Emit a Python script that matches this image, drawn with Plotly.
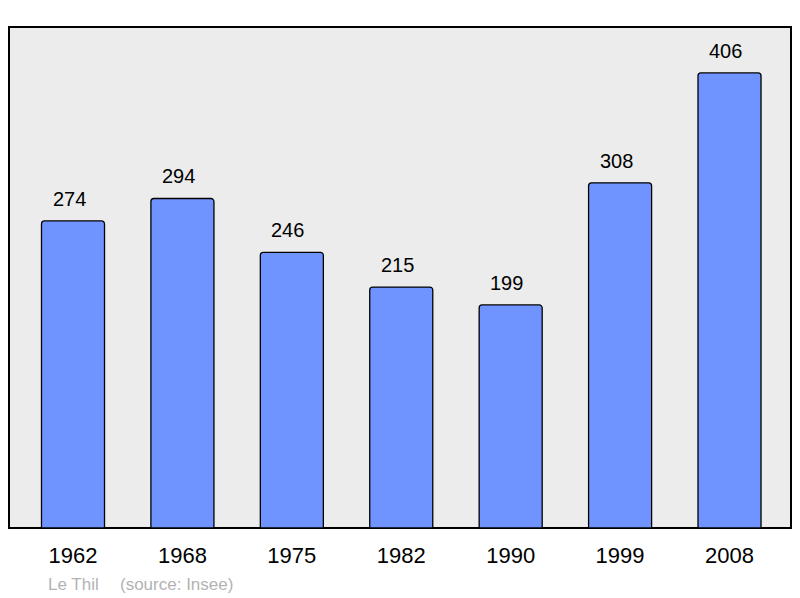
import plotly.graph_objects as go

years = ["1962", "1968", "1975", "1982", "1990", "1999", "2008"]
population = [274, 294, 246, 215, 199, 308, 406]
commune = "Le Thil"
source = "(source: Insee)"

bar_color = "#7094ff"
font_family = "Liberation Sans, Arial, sans-serif"

fig = go.Figure()
fig.add_trace(go.Bar(
    x=years, y=population,
    width=0.576,
    marker=dict(color=bar_color, line=dict(color="#000000", width=1.3), cornerradius=3),
    hoverinfo="skip",
))

for i, v in enumerate(population):
    fig.add_annotation(x=i, y=v, text=str(v), showarrow=False, yanchor="middle",
                       yshift=22, xshift=-4, font=dict(size=20, color="#000000", family=font_family))

fig.add_shape(type="rect", xref="paper", yref="paper", x0=0, x1=1, y0=0, y1=1,
              line=dict(color="#000000", width=2), fillcolor="#ececec", layer="below")

# page body has an 8px margin: figure is sized/offset to compensate
W, H = 792, 590
plot_w, plot_h = 782, 501
fig.add_annotation(xref="paper", yref="paper", x=(46 - 9) / plot_w, y=-(584 - 528) / plot_h,
                   xanchor="left", yanchor="middle", text=commune, showarrow=False,
                   font=dict(size=17, color="#b3b3b3", family=font_family))
fig.add_annotation(xref="paper", yref="paper", x=(118 - 9) / plot_w, y=-(584 - 528) / plot_h,
                   xanchor="left", yanchor="middle", text=source, showarrow=False,
                   font=dict(size=17, color="#b3b3b3", family=font_family))

fig.update_layout(
    width=W, height=H,
    margin=dict(l=1, r=9, t=19, b=70),
    paper_bgcolor="#ffffff", plot_bgcolor="rgba(0,0,0,0)",
    showlegend=False,
    font=dict(family=font_family),
    xaxis=dict(type="category", range=[-0.585, 6.562], showgrid=False, zeroline=False,
               showline=False, ticks="outside", ticklen=8, tickcolor="rgba(0,0,0,0)",
               tickfont=dict(size=22, color="#000000", family=font_family)),
    yaxis=dict(range=[0, 447], showgrid=False, zeroline=False, showline=False,
               showticklabels=False, ticks=""),
)

fig.write_html("out.html")
